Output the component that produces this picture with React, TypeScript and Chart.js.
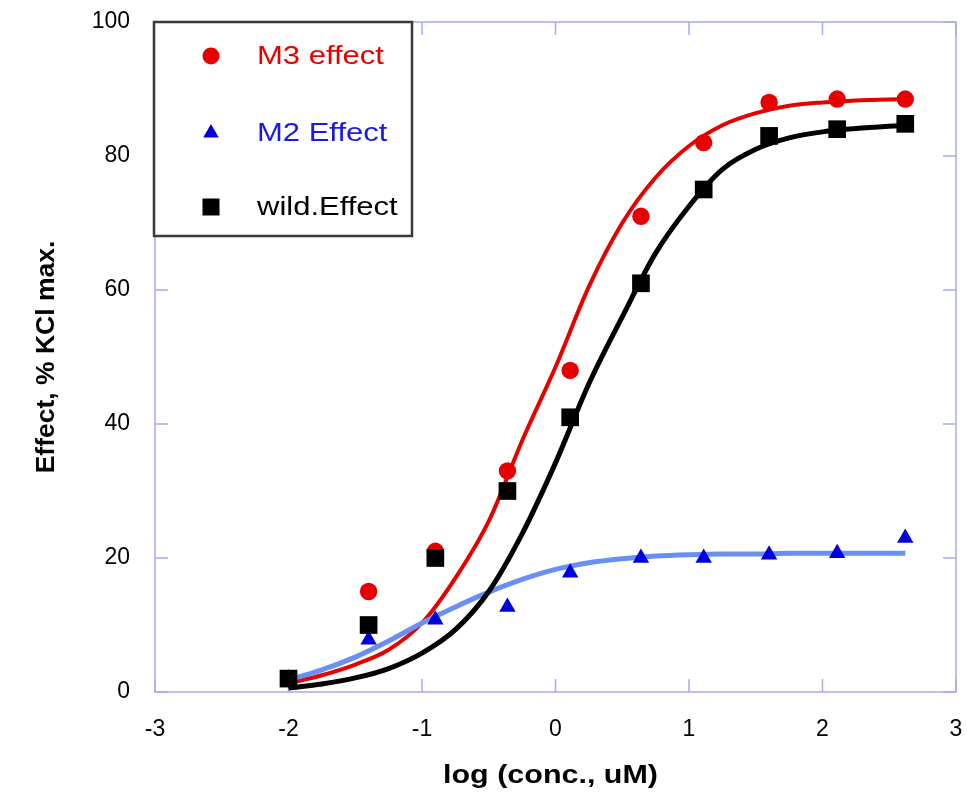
import React, { useEffect, useRef } from 'react';
import { Chart, registerables } from 'chart.js';

Chart.register(...registerables);

// Measured points (log concentration, % KCl max)
const doseLog = [-2, -1.4, -0.9, -0.36, 0.11, 0.64, 1.11, 1.6, 2.11, 2.62];
const m3Effect = [2, 15, 21, 33, 48, 71, 82, 88, 88.5, 88.5];
const m2Effect = [2, 7.8, 10.8, 12.7, 17.8, 20, 20, 20.5, 20.7, 23];
const wildEffect = [2, 10, 20, 30, 41, 61, 75, 83, 84, 84.8];

// Fitted curves
const fitLog = [-2, -1.75, -1.5, -1.25, -1, -0.75, -0.5, -0.25, 0, 0.25, 0.5, 0.75, 1, 1.25, 1.5, 1.75, 2, 2.25, 2.62];
const m3Fit = [1.3, 2.5, 4.1, 6.3, 10.3, 17, 25.5, 37.5, 48.5, 60.5, 70, 76.8, 81.5, 84.6, 86.4, 87.5, 88, 88.3, 88.5];
const wildFit = [0.6, 1.2, 2.1, 3.5, 5.8, 9.3, 15, 23.6, 34.2, 46, 56, 65.5, 72.5, 78, 81, 82.7, 83.6, 84.1, 84.6];
const m2Fit = [1.8, 3.3, 5.2, 7.6, 10.3, 12.7, 14.9, 16.8, 18.3, 19.3, 19.9, 20.3, 20.5, 20.6, 20.6, 20.7, 20.7, 20.7, 20.7];

const xTicks = [-3, -2, -1, 0, 1, 2, 3];
const yTicks = [0, 20, 40, 60, 80, 100];

const legendLabels = ['M3 effect', 'M2 Effect', 'wild.Effect'];
const xTitle = 'log (conc., uM)';
const yTitle = 'Effect, % KCl max.';

const RED = '#e60000';
const BLUE_MARK = '#0000dc';
const BLUE_LINE = '#6a8ff2';
const BLUE_TEXT = '#1a1ae6';
const BLACK = '#000000';
const FRAME = '#a9a9f5';
const FONT = '"Liberation Sans", Arial, sans-serif';

const pts = (xs: number[], ys: number[]) => xs.map((x, i) => ({ x, y: ys[i] }));

function drawMarker(ctx: CanvasRenderingContext2D, kind: string, x: number, y: number, color: string) {
  ctx.fillStyle = color;
  ctx.beginPath();
  if (kind === 'circle') {
    ctx.arc(x, y, 8.5, 0, Math.PI * 2);
  } else if (kind === 'triangle') {
    const r = 9;
    ctx.moveTo(x, y - r);
    ctx.lineTo(x + r * 0.866, y + r * 0.5);
    ctx.lineTo(x - r * 0.866, y + r * 0.5);
    ctx.closePath();
  } else {
    ctx.rect(x - 8.5, y - 8.5, 17, 17);
  }
  ctx.fill();
}

const framePlugin = {
  id: 'frameTicksLegend',
  beforeDatasetsDraw(chart: any) {
    const { ctx, chartArea: a, scales } = chart;
    const xs = scales.x;
    const ys = scales.y;
    ctx.save();
    ctx.strokeStyle = FRAME;
    ctx.lineWidth = 1.5;
    ctx.strokeRect(a.left, a.top, a.right - a.left, a.bottom - a.top);
    ctx.beginPath();
    const tl = 13;
    for (const v of xTicks) {
      const px = xs.getPixelForValue(v);
      ctx.moveTo(px, a.bottom);
      ctx.lineTo(px, a.bottom - tl);
      ctx.moveTo(px, a.top);
      ctx.lineTo(px, a.top + tl);
    }
    for (const v of yTicks) {
      const py = ys.getPixelForValue(v);
      ctx.moveTo(a.left, py);
      ctx.lineTo(a.left + tl, py);
      ctx.moveTo(a.right, py);
      ctx.lineTo(a.right - tl, py);
    }
    ctx.stroke();
    ctx.restore();
  },
  afterDraw(chart: any) {
    const { ctx, chartArea: a } = chart;
    // x axis title (stretched like the original)
    ctx.save();
    ctx.font = `bold 24px ${FONT}`;
    ctx.fillStyle = '#000';
    ctx.textAlign = 'center';
    ctx.textBaseline = 'middle';
    ctx.translate((a.left + a.right) / 2 - 5, chart.height - 18);
    ctx.scale(1.27, 1.08);
    ctx.fillText(xTitle, 0, 0);
    ctx.restore();

    // legend box
    const bx = a.left - 1;
    const by = a.top;
    const bw = 258;
    const bh = 214;
    ctx.save();
    ctx.fillStyle = '#ffffff';
    ctx.fillRect(bx, by, bw, bh);
    ctx.strokeStyle = '#3a3a3a';
    ctx.lineWidth = 2.5;
    ctx.strokeRect(bx, by, bw, bh);
    const kinds = ['circle', 'triangle', 'rect'];
    const markColors = [RED, BLUE_MARK, BLACK];
    const textColors = [RED, BLUE_TEXT, BLACK];
    const rows = [34, 111, 185];
    ctx.font = `25px ${FONT}`;
    ctx.textBaseline = 'middle';
    ctx.textAlign = 'left';
    legendLabels.forEach((lab, i) => {
      const cy = by + rows[i];
      drawMarker(ctx, kinds[i], bx + 57, cy, markColors[i]);
      ctx.save();
      ctx.translate(bx + 103, cy);
      ctx.scale(1.24, 1);
      ctx.fillStyle = textColors[i];
      ctx.fillText(lab, 0, 1);
      ctx.restore();
    });
    ctx.restore();
  },
};

export default function App() {
  const ref = useRef<HTMLCanvasElement | null>(null);
  useEffect(() => {
    if (!ref.current) return;
    const lineDs = (data: number[], color: string, width: number, order: number) => ({
      type: 'scatter' as const,
      data: pts(fitLog, data),
      showLine: true,
      borderColor: color,
      borderWidth: width,
      pointRadius: 0,
      cubicInterpolationMode: 'monotone' as const,
      fill: false,
      order,
    });
    const markDs = (data: number[], color: string, style: string, radius: number, order: number) => ({
      type: 'scatter' as const,
      data: pts(doseLog, data),
      showLine: false,
      pointStyle: style,
      pointRadius: radius,
      pointBackgroundColor: color,
      pointBorderColor: color,
      pointBorderWidth: 0,
      order,
    });
    const chart = new Chart(ref.current, {
      type: 'scatter',
      data: {
        datasets: [
          markDs(wildEffect, BLACK, 'rect', 12.5, 0),
          lineDs(wildFit, BLACK, 5, 1),
          markDs(m2Effect, BLUE_MARK, 'triangle', 9.5, 2),
          lineDs(m2Fit, BLUE_LINE, 5, 3),
          markDs(m3Effect, RED, 'circle', 8.7, 4),
          lineDs(m3Fit, RED, 4, 5),
        ] as any,
      },
      options: {
        responsive: false,
        animation: false,
        layout: { autoPadding: false, padding: { left: 0, right: 11, top: 22, bottom: 0 } },
        plugins: { legend: { display: false }, tooltip: { enabled: false } },
        scales: {
          x: {
            type: 'linear',
            min: -3,
            max: 3,
            grid: { display: false, drawTicks: false },
            border: { display: false },
            ticks: { stepSize: 1, padding: 24, color: '#000', font: { family: FONT, size: 23 } },
            title: { display: false },
            afterFit: (s: any) => {
              s.height = 102;
              s.paddingLeft = 0;
              s.paddingRight = 0;
              s.paddingTop = 0;
              s.paddingBottom = 0;
            },
          },
          y: {
            type: 'linear',
            min: 0,
            max: 100,
            grid: { display: false, drawTicks: false },
            border: { display: false },
            ticks: { stepSize: 20, padding: 25, color: '#000', font: { family: FONT, size: 23 } },
            title: {
              display: true,
              text: yTitle,
              color: '#000',
              font: { family: FONT, size: 26.5, weight: 'bold' },
              padding: { top: 31, bottom: 0 },
            },
            afterFit: (s: any) => {
              s.width = 155;
              s.paddingLeft = 0;
              s.paddingRight = 0;
              s.paddingTop = 0;
              s.paddingBottom = 0;
            },
          },
        },
      },
      plugins: [framePlugin],
    });
    return () => chart.destroy();
  }, []);
  return (
    <div style={{ position: 'absolute', left: 0, top: 0, width: 967, height: 794, background: '#fff' }}>
      <canvas ref={ref} width={967} height={794} style={{ width: 967, height: 794, display: 'block' }} />
    </div>
  );
}
